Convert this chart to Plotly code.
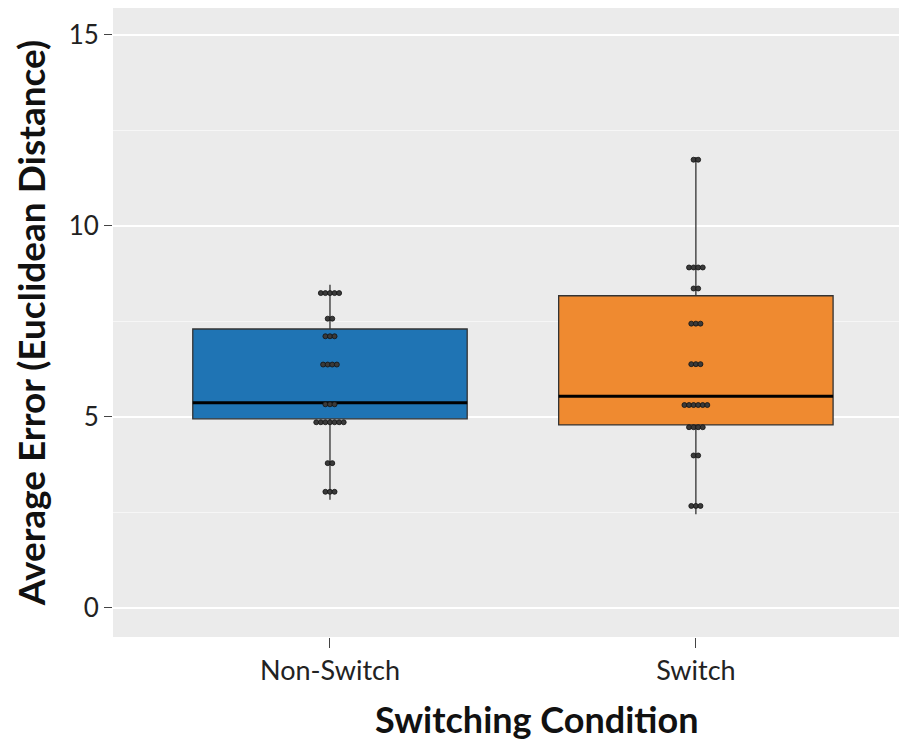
import plotly.graph_objects as go

categories = ["Non-Switch", "Switch"]
box_colors = ["#1f74b4", "#ef8a30"]
q1 = [4.95, 4.79]
median = [5.37, 5.54]
q3 = [7.30, 8.17]
lower_whisker = [2.83, 2.45]
upper_whisker = [8.46, 11.80]

ns_dot_values = [8.24, 7.57, 7.11, 6.37, 5.33, 4.86, 3.79, 3.04]
ns_dot_counts = [5, 2, 3, 4, 3, 7, 2, 3]
sw_dot_values = [11.73, 8.91, 8.36, 7.44, 6.38, 5.31, 4.73, 3.99, 2.67]
sw_dot_counts = [2, 4, 2, 3, 3, 6, 4, 2, 3]

BOX_W = 0.75
DOT_STEP = 0.0125
FONT = "Lato"

fig = go.Figure()

for i, cat in enumerate(categories):
    fig.add_trace(go.Box(
        x=[i], q1=[q1[i]], median=[median[i]], q3=[q3[i]],
        lowerfence=[lower_whisker[i]], upperfence=[upper_whisker[i]],
        width=BOX_W, fillcolor=box_colors[i],
        line=dict(color="#333333", width=1.3), whiskerwidth=0,
        boxpoints=False, name=cat, showlegend=False, hoverinfo="skip",
    ))
    fig.add_trace(go.Scatter(
        x=[i - BOX_W / 2, i + BOX_W / 2], y=[median[i], median[i]],
        mode="lines", line=dict(color="black", width=3.2),
        showlegend=False, hoverinfo="skip",
    ))

for i, (vals, counts) in enumerate([(ns_dot_values, ns_dot_counts), (sw_dot_values, sw_dot_counts)]):
    xs, ys = [], []
    for v, n in zip(vals, counts):
        for k in range(n):
            xs.append(i + (k - (n - 1) / 2) * DOT_STEP)
            ys.append(v)
    fig.add_trace(go.Scatter(
        x=xs, y=ys, mode="markers",
        marker=dict(size=5, color="#3a3a3a", line=dict(color="#111111", width=0.8)),
        showlegend=False, hoverinfo="skip",
    ))

fig.update_layout(
    width=899, height=733,
    margin=dict(l=105, r=0, t=0, b=104, autoexpand=False),
    paper_bgcolor="white", plot_bgcolor="#ebebeb",
    font=dict(family=FONT, color="#222222"),
    annotations=[dict(
        text="<b>Switching Condition</b>", xref="paper", yref="paper",
        x=0.533, y=-0.131, xanchor="center", yanchor="middle", showarrow=False,
        font=dict(family=FONT, size=36, color="#111111"),
    )],
)
fig.update_xaxes(
    range=[-0.593, 1.577], tickvals=[0, 1], ticktext=categories,
    ticks="outside", ticklen=10, tickcolor="#444444", tickwidth=1,
    showgrid=False, zeroline=False, showline=False,
    tickfont=dict(family=FONT, size=27, color="#222222"),
)
fig.update_yaxes(
    range=[-0.76, 15.7], tickvals=[0, 5, 10, 15],
    ticks="outside", ticklen=8, tickcolor="#444444", tickwidth=1,
    showgrid=True, gridcolor="white", gridwidth=1.6, zeroline=False, showline=False,
    minor=dict(tickvals=[2.5, 7.5, 12.5], showgrid=True, gridcolor="#f6f6f6", gridwidth=1, ticks=""),
    tickfont=dict(family=FONT, size=26, color="#222222"),
    title=dict(text="<b>Average Error (Euclidean Distance)</b>", font=dict(family=FONT, size=37, color="#111111"), standoff=12),
)

fig.write_html("out.html")
